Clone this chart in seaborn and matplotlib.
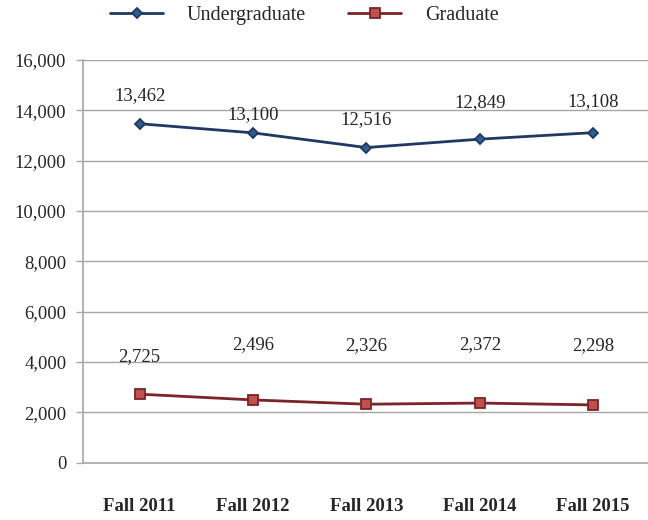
import pandas as pd
import matplotlib.pyplot as plt
import seaborn as sns

# -----------------------------
# Data
# -----------------------------
terms = ["Fall 2011", "Fall 2012", "Fall 2013", "Fall 2014", "Fall 2015"]
undergrad = [13462, 13100, 12516, 12849, 13108]
graduate = [2725, 2496, 2326, 2372, 2298]

df = pd.DataFrame({
    "term": terms * 2,
    "enrollment": undergrad + graduate,
    "level": ["Undergraduate"] * len(terms) + ["Graduate"] * len(terms),
})

# -----------------------------
# Style
# -----------------------------
sns.set_style("white")
plt.rcParams['font.family'] = ['Liberation Serif', 'DejaVu Serif']

line_colors = {"Undergraduate": "#1F3864", "Graduate": "#7B2326"}
face_colors = {"Undergraduate": "#2F5C8F", "Graduate": "#C0504D"}
markers = {"Undergraduate": "D", "Graduate": "s"}
marker_sizes = {"Undergraduate": 5, "Graduate": 7}
FS = 13.5

fig = plt.figure(figsize=(6.48, 5.2), dpi=100)
ax = fig.add_axes([0.128, 0.11, 0.875, 0.775])

for level in ["Undergraduate", "Graduate"]:
    sub = df[df["level"] == level]
    sns.lineplot(data=sub, x="term", y="enrollment", ax=ax,
                 color=line_colors[level], linewidth=2, marker=markers[level],
                 markersize=marker_sizes[level],
                 markerfacecolor=face_colors[level],
                 markeredgecolor=line_colors[level], markeredgewidth=1.3,
                 label=level, sort=False)

# data labels (offsets in points, hand placed like the original)
ug_offsets = [20, 13, 20, 26, 22]
gr_offsets = [27, 40, 42, 42, 43]
for i, v in enumerate(undergrad):
    ax.annotate(f"{v:,}", (i, v), xytext=(0, ug_offsets[i]),
                textcoords="offset points", ha="center", va="center", fontsize=FS)
for i, v in enumerate(graduate):
    ax.annotate(f"{v:,}", (i, v), xytext=(0, gr_offsets[i]),
                textcoords="offset points", ha="center", va="center", fontsize=FS)

# -----------------------------
# Axes
# -----------------------------
ax.set_xlim(-0.5, len(terms) - 0.5)
ax.set_ylim(0, 16000)
ax.set_yticks(range(0, 16001, 2000))
ax.set_yticklabels([f"{t:,}" for t in range(0, 16001, 2000)], fontsize=FS)
ax.yaxis.grid(True, color="#A6A6A6", linewidth=1)
ax.set_axisbelow(True)
ax.set_xticks(range(len(terms)))
ax.set_xticklabels(terms, fontsize=FS, fontweight="bold")
ax.tick_params(axis="x", length=0, pad=25)
ax.tick_params(axis="y", length=5, width=1, color="#A6A6A6", direction="out", pad=7, left=True)
ax.set_xlabel("")
ax.set_ylabel("")

for side in ["top", "right"]:
    ax.spines[side].set_visible(False)
for side in ["left", "bottom"]:
    ax.spines[side].set_color("#A6A6A6")
    ax.spines[side].set_linewidth(1.2)

ax.legend(loc="center", bbox_to_anchor=(0.47, 0.971), bbox_transform=fig.transFigure,
          ncol=2, frameon=False, fontsize=14.5, handlelength=2.6,
          columnspacing=2.1, handletextpad=1.2)

plt.savefig("out.png", dpi=100)
plt.close()
